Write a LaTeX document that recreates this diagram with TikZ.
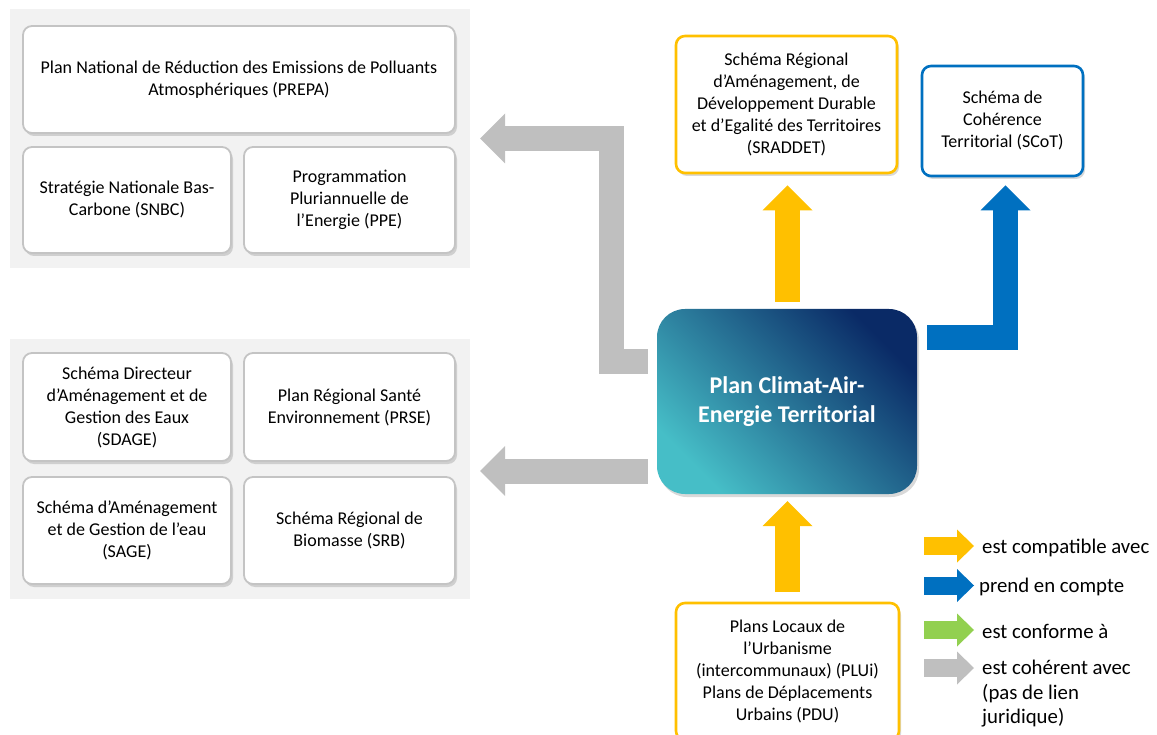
\documentclass[tikz,border=0pt]{standalone}
\usepackage{fontspec}
\setmainfont{Carlito}
\usetikzlibrary{arrows.meta,calc,shadows}
\definecolor{ycol}{HTML}{FFC000}
\definecolor{bcol}{HTML}{0070C0}
\definecolor{gcol}{HTML}{92D050}
\definecolor{acol}{HTML}{BFBFBF}
\definecolor{panelc}{HTML}{F2F2F2}
\definecolor{boxline}{HTML}{C4C4C4}
\definecolor{tealc}{HTML}{46BEC7}
\definecolor{midc}{HTML}{2B89A3}
\definecolor{navyc}{HTML}{0A2A66}
\tikzset{
  panel/.style={fill=panelc, draw=none, inner sep=0pt},
  box/.style={draw=boxline, line width=1.8pt, fill=white, rounded corners=9pt,
    inner sep=0pt, align=center, font=\fontsize{18}{22}\selectfont,
    drop shadow={shadow xshift=2pt, shadow yshift=-3pt, opacity=0.3, fill=black!50}},
  ybox/.style={box, draw=ycol, line width=2.6pt},
  bbox/.style={box, draw=bcol, line width=2.6pt},
  bigarrow/.style={line width=25pt, line join=miter,
    -{Triangle[width=50pt,length=25pt,line width=0pt]}},
  legarrow/.style={line width=18pt,
    -{Triangle[width=33pt,length=17pt,line width=0pt]}},
  legtext/.style={anchor=west, inner sep=0pt, font=\fontsize{20.8}{24.5}\selectfont, align=left},
}
\begin{document}
\begin{tikzpicture}[x=1pt,y=-1pt]
\useasboundingbox (0,0) rectangle (1157,735);
% panels
\node[panel, minimum width=460pt, minimum height=259pt] (panel1) at (240,138.5) {};
\node[panel, minimum width=460pt, minimum height=260pt] (panel2) at (240,469) {};
% left boxes
\node[box, minimum width=432pt, minimum height=107pt] (prepa) at (239,79.5)
  {Plan National de Réduction des Emissions de Polluants\\Atmosphériques (PREPA)};
\node[box, minimum width=208pt, minimum height=106pt] (snbc) at (127,200)
  {Stratégie Nationale Bas-\\Carbone (SNBC)};
\node[box, minimum width=211pt, minimum height=106pt] (ppe) at (349.5,200)
  {Programmation\\Pluriannuelle de\\l’Energie (PPE)};
\node[box, minimum width=208pt, minimum height=108pt] (sdage) at (127,407)
  {Schéma Directeur\\d’Aménagement et de\\Gestion des Eaux\\(SDAGE)};
\node[box, minimum width=211pt, minimum height=108pt] (prse) at (349.5,407)
  {Plan Régional Santé\\Environnement (PRSE)};
\node[box, minimum width=208pt, minimum height=107pt] (sage) at (127,530.5)
  {Schéma d’Aménagement\\et de Gestion de l’eau\\(SAGE)};
\node[box, minimum width=211pt, minimum height=107pt] (srb) at (349.5,530.5)
  {Schéma Régional de\\Biomasse (SRB)};
% right boxes
\node[ybox, minimum width=221pt, minimum height=137pt] (sraddet) at (786.5,104.5)
  {Schéma Régional\\d’Aménagement, de\\Développement Durable\\et d’Egalité des Territoires\\(SRADDET)};
\node[bbox, minimum width=161pt, minimum height=110pt] (scot) at (1002.5,121)
  {Schéma de\\Cohérence\\Territorial (SCoT)};
\node[ybox, minimum width=223pt, minimum height=137pt] (plu) at (787.5,671.5)
  {Plans Locaux de\\l’Urbanisme\\(intercommunaux) (PLUi)\\Plans de Déplacements\\Urbains (PDU)};
% central box
\node[draw=none, rounded corners=28pt, minimum width=260pt, minimum height=185pt,
  inner sep=0pt, bottom color=tealc, middle color=midc, top color=navyc, shading angle=-45,
  drop shadow={shadow xshift=2pt, shadow yshift=-3pt, opacity=0.3, fill=black!50},
  text=white, font=\bfseries\fontsize{24}{29}\selectfont, align=center]
  (pcaet) at (787,401.5) {Plan Climat-Air-\\Energie Territorial};
% block arrows
\draw[bigarrow, ycol] ($(pcaet.north)+(0.5,-7)$) -- ($(sraddet.south)+(1,11)$);
\draw[bigarrow, ycol] ($(plu.north)+(0,-10)$) -- ($(pcaet.south)+(0.5,7)$);
\draw[bigarrow, bcol] ($(pcaet.east)+(10,-64)$) -| ($(scot.south)+(3,8)$);
\draw[bigarrow, acol] ($(pcaet.west)+(-9,-40)$) -| ($(panel1.east)+(141.5,0)$) -- ($(panel1.east)+(10,0)$);
\draw[bigarrow, acol] ($(pcaet.west)+(-9,69.5)$) -- ($(panel2.east)+(10,2)$);
% legend
\node[legtext] (l1) at (982,548) {est compatible avec};
\node[legtext] (l2) at (979,587) {prend en compte};
\node[legtext] (l3) at (982,631) {est conforme à};
\node[legtext] (l4) at (982,694) {est cohérent avec\\(pas de lien\\juridique)};
\draw[legarrow, ycol] ($(l1.west)+(-58,-2)$) -- ($(l1.west)+(-8,-2)$);
\draw[legarrow, bcol] ($(l2.west)+(-55,-1.5)$) -- ($(l2.west)+(-5,-1.5)$);
\draw[legarrow, gcol] ($(l3.west)+(-58,-1)$) -- ($(l3.west)+(-8,-1)$);
\draw[legarrow, acol] ($(l4.west)+(-58,-26)$) -- ($(l4.west)+(-8,-26)$);
\end{tikzpicture}
\end{document}
